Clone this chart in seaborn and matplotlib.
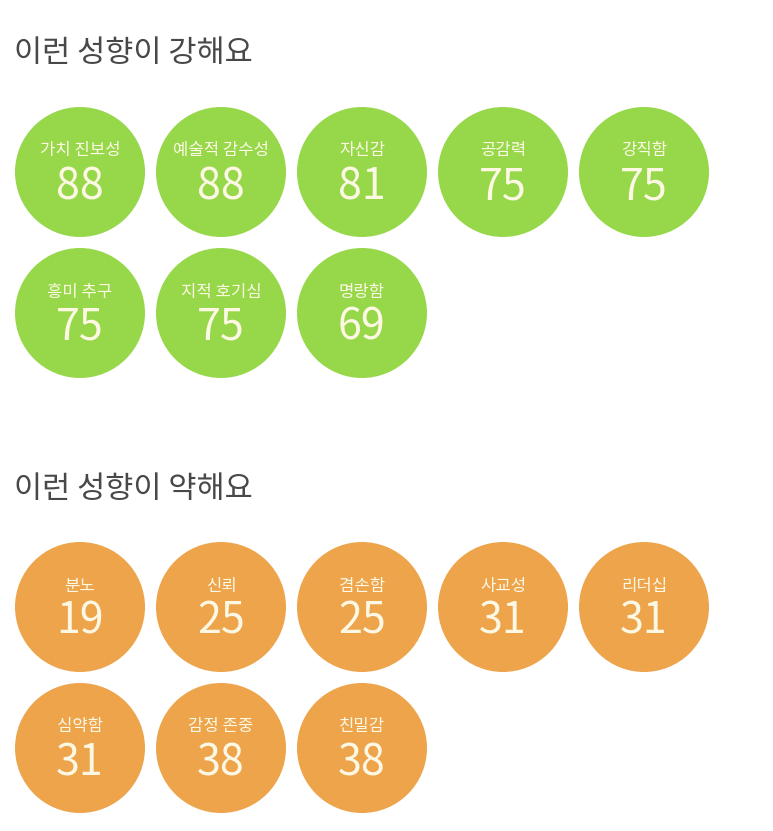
import numpy as np
import pandas as pd
import seaborn as sns
import matplotlib.pyplot as plt

sns.set_style('white')
plt.rcParams['font.family'] = ['Noto Sans CJK KR', 'DejaVu Sans']

# data
strong_title = '이런 성향이 강해요'
strong_labels = ['가치 진보성', '예술적 감수성', '자신감', '공감력', '강직함',
                 '흥미 추구', '지적 호기심', '명랑함']
strong_scores = [88, 88, 81, 75, 75, 75, 75, 69]

weak_title = '이런 성향이 약해요'
weak_labels = ['분노', '신뢰', '겸손함', '사교성', '리더십',
               '심약함', '감정 존중', '친밀감']
weak_scores = [19, 25, 25, 31, 31, 31, 38, 38]

W, H, DPI = 773, 831, 100
GREEN = '#97d84b'
ORANGE = '#eda44b'
TEXT_IN = '#fdf8e4'
TITLE_C = '#484848'

x0, step, radius = 80, 141, 65
ncol = 5


def bubbles(ax, labels, scores, top, color):
    idx = np.arange(len(labels))
    df = pd.DataFrame({
        'x': x0 + (idx % ncol) * step,
        'y': top + (idx // ncol) * step,
        'label': labels,
        'score': scores,
    })
    diam_pt = 2 * radius * 72 / DPI
    sns.scatterplot(data=df, x='x', y='y', ax=ax, s=diam_pt ** 2,
                    color=color, edgecolor='none', linewidth=0, legend=False,
                    zorder=2)
    for _, r in df.iterrows():
        ax.text(r.x, r.y - 21, r.label, ha='center', va='center',
                fontsize=12, color=TEXT_IN, zorder=3)
        ax.text(r.x, r.y + 15, str(r.score), ha='center', va='center',
                fontsize=31, color=TEXT_IN, zorder=3)


fig = plt.figure(figsize=(W / DPI, H / DPI), dpi=DPI)
ax = fig.add_axes([0, 0, 1, 1])
ax.set_xlim(0, W)
ax.set_ylim(H, 0)
ax.axis('off')

ax.text(14, 54, strong_title, ha='left', va='center', fontsize=22,
        color=TITLE_C)
bubbles(ax, strong_labels, strong_scores, 172, GREEN)

ax.text(14, 489, weak_title, ha='left', va='center', fontsize=22,
        color=TITLE_C)
bubbles(ax, weak_labels, weak_scores, 607, ORANGE)

fig.savefig('out.png', dpi=DPI, facecolor='white')
